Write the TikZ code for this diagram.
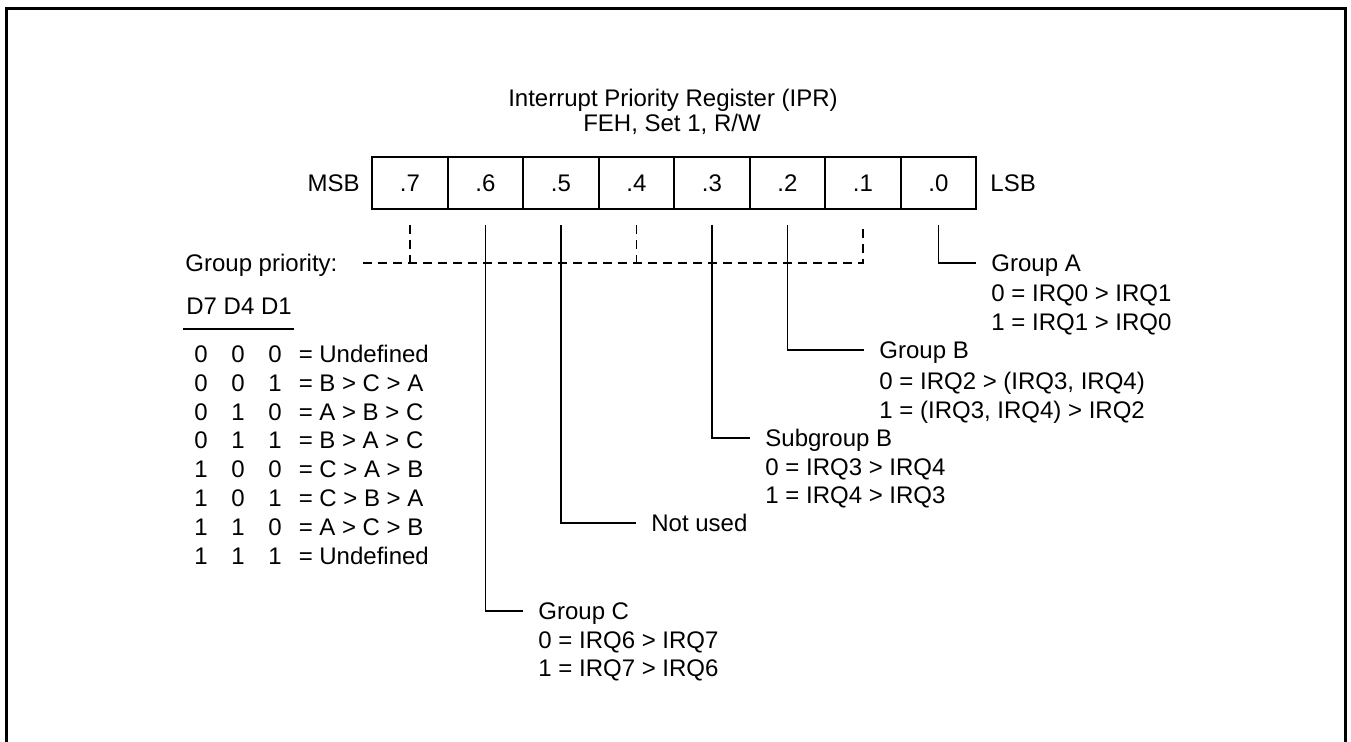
\documentclass[tikz,border=0pt]{standalone}
\usepackage{fontspec}
\setmainfont{Liberation Sans}
\usetikzlibrary{calc}

\begin{document}
\begin{tikzpicture}[x=0.5pt,y=-0.5pt,
   font=\fontsize{12pt}{14.5pt}\selectfont,
   txt/.style={inner sep=0pt,text height=8.6pt,text depth=0pt},
   lbl/.style={txt,anchor=west},
   cell/.style={txt,draw,line width=0.85pt,minimum width=37.75pt,minimum height=26pt},
   wire/.style={line width=0.85pt},
   dashy/.style={wire,dash pattern=on 4.5pt off 3pt}]
  \useasboundingbox (0,0) rectangle (1351,742);
  \draw[line width=1.5pt] (6.5,742) -- (6.5,8.3) -- (1345,8.3) -- (1345,742);

  % title
  \node[txt] (ttl) at (673,98)  {Interrupt Priority Register (IPR)};
  \node[txt] (adr) at (672,123) {FEH, Set 1, R/W};

  % register bits
  \foreach \b [count=\i from 0] in {7,...,0}
    \node[cell] (b\b) at ({410+75.5*\i},183) {.\b};
  \node[txt,anchor=east] (msb) at (360,183) {MSB};
  \node[lbl] (lsb) at (990,183) {LSB};

  % group priority bits D7, D4, D1
  \node[lbl] (gp) at (185,263) {Group priority:};
  \coordinate (dend) at (b1.south |- gp.west);
  \draw[dashy] (363,263) -- (dend) -- ([yshift=-7.5pt]b1.south);
  \draw[dashy] ([yshift=-7.5pt]b7.south) -- (b7.south |- gp.west);
  \draw[dashy] ([yshift=-7.5pt]b4.south) -- (b4.south |- gp.west);

  \node[lbl] (hd) at (186,306) {D7 D4 D1};
  \draw[wire] ([xshift=-1.5pt,yshift=-7pt]hd.south west) -- ([xshift=1pt,yshift=-7pt]hd.south east);
  \foreach \p/\q/\r/\t [count=\i from 0] in {0/0/0/Undefined,0/0/1/B > C > A,0/1/0/A > B > C,
      0/1/1/B > A > C,1/0/0/C > A > B,1/0/1/C > B > A,1/1/0/A > C > B,1/1/1/Undefined}{
    \node[txt] (p\i) at (201,{354+28.8*\i}) {\p};
    \node[txt] (q\i) at (238,{354+28.8*\i}) {\q};
    \node[txt] (r\i) at (275,{354+28.8*\i}) {\r};
    \node[txt] (e\i) at (306,{354+28.8*\i}) {=};
    \node[lbl] (t\i) at (319,{354+28.8*\i}) {\t};
  }

  % group A
  \node[lbl] (ga1) at (991,263) {Group A};
  \node[lbl] (ga2) at (991,293) {0 = IRQ0 > IRQ1};
  \node[lbl] (ga3) at (991,322) {1 = IRQ1 > IRQ0};
  % group B
  \node[lbl] (gb1) at (879,350) {Group B};
  \node[lbl] (gb2) at (879,381) {0 = IRQ2 > (IRQ3, IRQ4)};
  \node[lbl] (gb3) at (879,410) {1 = (IRQ3, IRQ4) > IRQ2};
  % subgroup B
  \node[lbl] (sb1) at (765,438) {Subgroup B};
  \node[lbl] (sb2) at (765,467) {0 = IRQ3 > IRQ4};
  \node[lbl] (sb3) at (765,495) {1 = IRQ4 > IRQ3};
  % not used
  \node[lbl] (nu)  at (651,523) {Not used};
  % group C
  \node[lbl] (gc1) at (538,611) {Group C};
  \node[lbl] (gc2) at (538,640) {0 = IRQ6 > IRQ7};
  \node[lbl] (gc3) at (538,668) {1 = IRQ7 > IRQ6};

  \draw[wire] ([yshift=-7.5pt]b0.south) |- ([xshift=-7.5pt]ga1.west);
  \draw[wire] ([yshift=-7.5pt]b2.south) |- ([xshift=-7.5pt]gb1.west);
  \draw[wire] ([yshift=-7.5pt]b3.south) |- ([xshift=-7.5pt]sb1.west);
  \draw[wire] ([yshift=-7.5pt]b5.south) |- ([xshift=-7.5pt]nu.west);
  \draw[wire] ([yshift=-7.5pt]b6.south) |- ([xshift=-7.5pt]gc1.west);
\end{tikzpicture}
\end{document}
